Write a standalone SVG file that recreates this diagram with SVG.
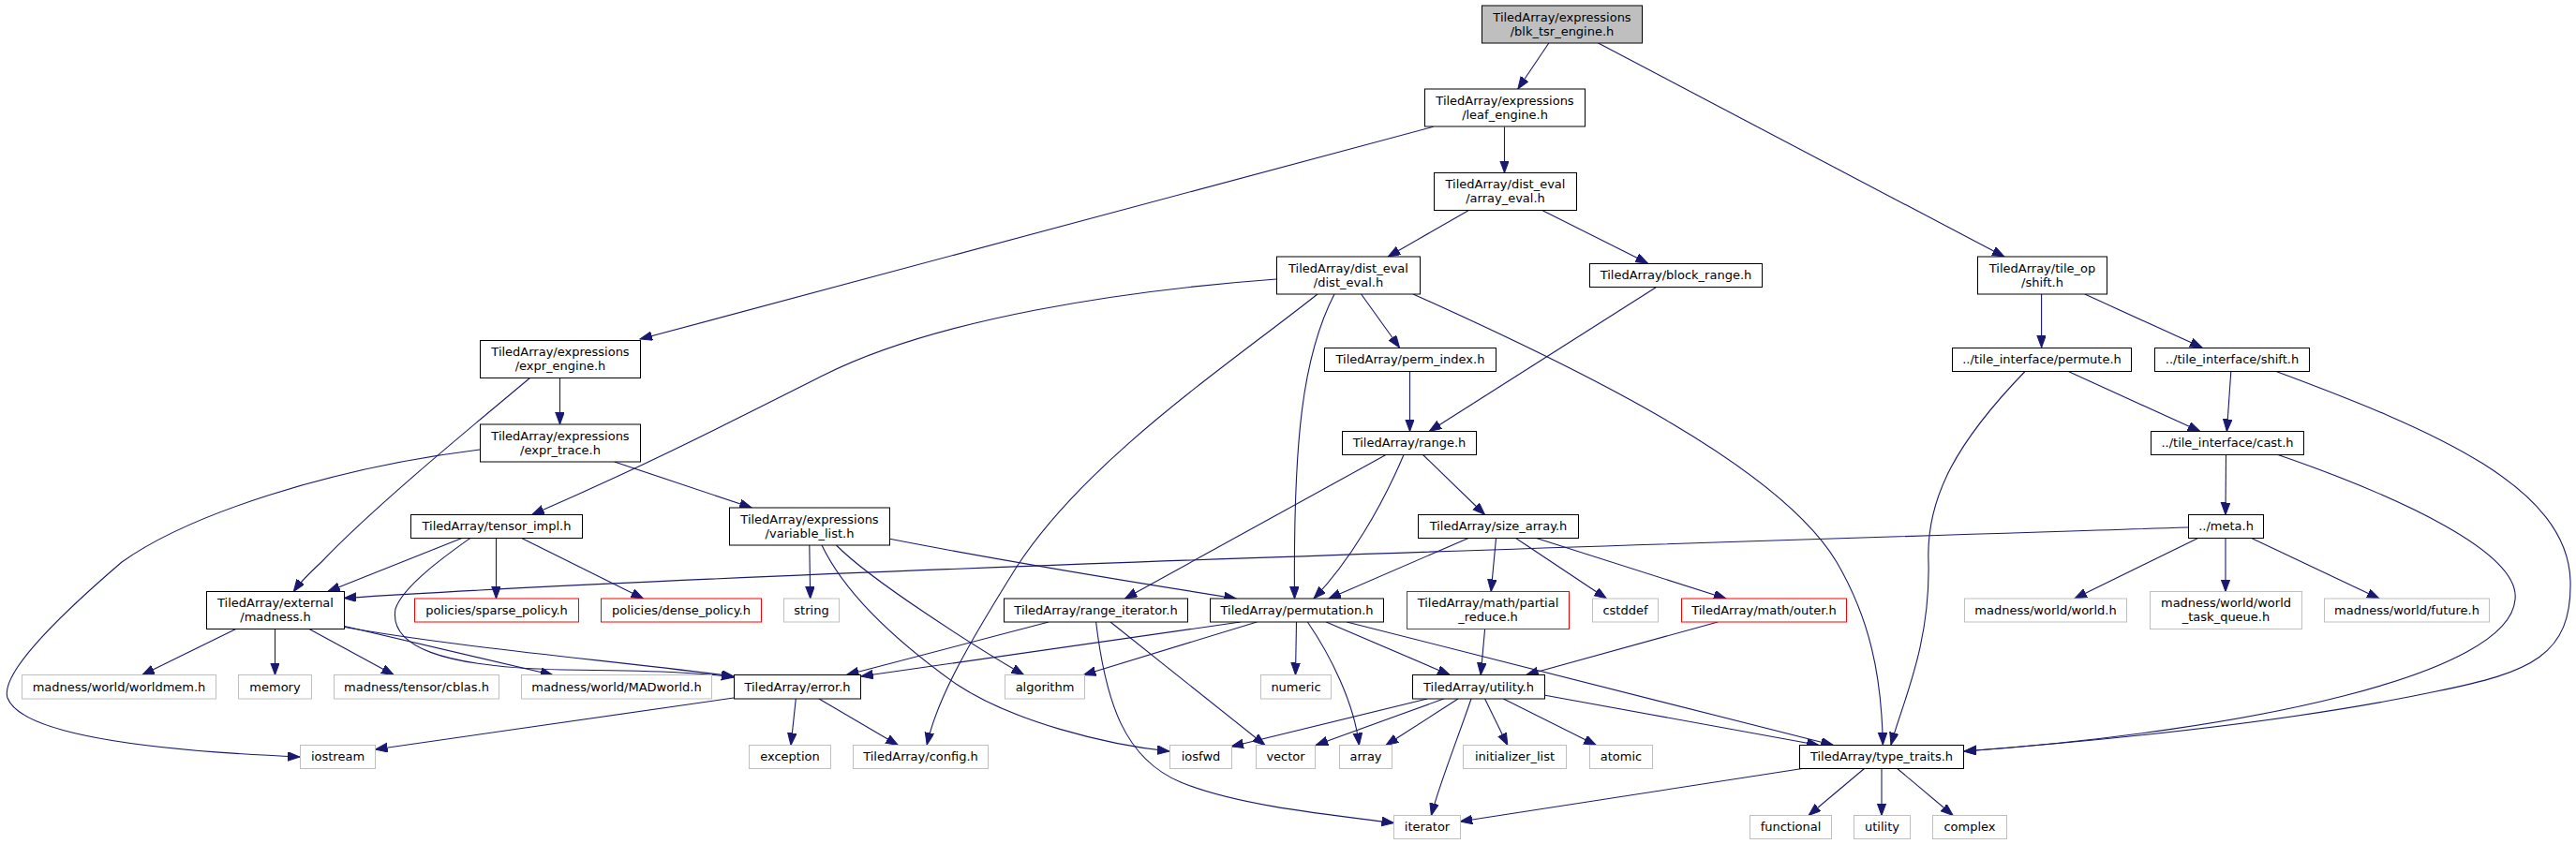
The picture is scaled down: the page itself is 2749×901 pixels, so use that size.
<svg xmlns="http://www.w3.org/2000/svg" width="2749" height="901" viewBox="0 0 2749 901">
<defs>
<marker id="ah" markerUnits="userSpaceOnUse" markerWidth="14" markerHeight="11" refX="13" refY="4.8" orient="auto">
<path d="M0,0 L13,4.8 L0,9.6 z" fill="#191970" stroke="#191970" stroke-width="1"/>
</marker>
<style>
rect{fill:#fff;stroke:#000;stroke-width:1}
.root rect{fill:#bfbfbf}
.ext rect{stroke:#bfbfbf}
.red rect{stroke:#ff0000}
text{font-family:"DejaVu Sans","Liberation Sans",sans-serif;font-size:13px;fill:#000;text-anchor:middle}
#edges path{fill:none;stroke:#191970;stroke-width:1.1;marker-end:url(#ah)}
</style>
</defs>
<rect x="0" y="0" width="2749" height="901" style="fill:#fff;stroke:none"/>
<g id="edges">
<path d="M1652.8,46 L1619.8,95"/>
<path d="M1705.6,46 L2139,274"/>
<path d="M1529.6,135.3 L683,362"/>
<path d="M1605.5,135.5 L1605.5,184.5"/>
<path d="M1567,224.7 L1481.2,274"/>
<path d="M1646.2,224.7 L1758.4,281"/>
<path d="M1362,298 C1200,310 1000,340 880,400 C790,445 700,492 567.7,549.5"/>
<path d="M1406,314 C1310,390 1160,490 1085,605 C1035,685 1000,745 989.2,795"/>
<path d="M1424,314 C1390,380 1380,470 1381.5,639"/>
<path d="M1508,314 C1700,400 1900,500 1960,600 C1995,660 2008,720 2009.3,795"/>
<path d="M1452.6,314 L1493.5,371"/>
<path d="M1767.2,306.7 L1525.2,460.5"/>
<path d="M2178.6,314 L2178.6,371"/>
<path d="M2224.8,314 L2350,371"/>
<path d="M2207.2,396.5 L2347.8,460.5"/>
<path d="M2161,396.5 C2090,470 2055,530 2058,600 C2060,690 2030,750 2018,795"/>
<path d="M2380.8,396.5 L2376.4,460.5"/>
<path d="M2429,396.5 C2600,460 2740,520 2743,620 C2745,700 2700,718 2600,738 C2450,770 2250,790 2096,802"/>
<path d="M2375.5,485.5 L2375,549.5"/>
<path d="M2431,485.5 C2560,530 2690,590 2684,640 C2678,720 2400,780 2096,802"/>
<path d="M2335,563 C1800,580 800,610 367,638.5"/>
<path d="M2345.6,574.5 L2213.8,639"/>
<path d="M2375,574.5 L2375,631.5"/>
<path d="M2402.7,574.5 L2539,639"/>
<path d="M597.5,403.5 L597.5,453"/>
<path d="M565.5,403.5 C510,450 400,540 343,600 C330,612 320,622 313.3,631.5"/>
<path d="M512,480 C350,500 200,550 130,600 C60,660 0,720 8,745 C25,790 200,803 320,808"/>
<path d="M655.7,493 L802.2,542"/>
<path d="M1504.5,396.5 L1504.5,460.5"/>
<path d="M1479,485.5 L1200.5,639"/>
<path d="M1498,485.5 C1475,540 1440,600 1402,639"/>
<path d="M1518.6,485.5 L1584.6,549.5"/>
<path d="M1567,574.5 L1418,639"/>
<path d="M1596.5,574.5 L1591.2,631.5"/>
<path d="M1617.6,574.5 L1714.4,639"/>
<path d="M1639.6,574.5 L1842,639"/>
<path d="M492.9,574.5 L349.8,631.5"/>
<path d="M529.5,574.5 L529.5,639"/>
<path d="M556.7,574.5 L686.5,639"/>
<path d="M501.7,574.5 C480,590 430,625 422,650 C415,690 470,712 600,715 C700,716 750,718 783,723"/>
<path d="M251.7,671.5 L151.8,720.5"/>
<path d="M293.5,671.5 L293.5,720.5"/>
<path d="M330,671.5 L420.2,720.5"/>
<path d="M366.6,668.3 L589.7,720.5"/>
<path d="M366.6,669.3 C480,690 650,705 783,722"/>
<path d="M863.8,582 L864.7,639"/>
<path d="M892.4,582 C930,620 1040,690 1092.6,720.5"/>
<path d="M877,582 C900,630 950,680 1020,730 C1080,770 1180,795 1248,802"/>
<path d="M948.3,575 C1050,595 1200,620 1319.3,639"/>
<path d="M1119,664 L903.4,720.5"/>
<path d="M1185,664 L1350,795.5"/>
<path d="M1169.6,664 C1180,750 1200,810 1260,835 C1320,860 1420,870 1487.5,878.5"/>
<path d="M1323.7,664 L918.8,722"/>
<path d="M1341.3,664 L1156.4,720.5"/>
<path d="M1383.5,664 L1382.5,720.5"/>
<path d="M1395.4,664 C1420,700 1445,750 1450.4,795.5"/>
<path d="M1415.2,664 L1547.2,720.5"/>
<path d="M1437.2,664 L1956.4,795.5"/>
<path d="M849.3,746 L844,795.5"/>
<path d="M874,746 L958.4,795.5"/>
<path d="M783,745 L400.5,800"/>
<path d="M1584.6,671.5 L1580.2,720.5"/>
<path d="M1833.2,664 L1628.6,720.5"/>
<path d="M1523,746 L1314,797"/>
<path d="M1540.6,746 L1404.2,795.5"/>
<path d="M1556,746 L1479,795.5"/>
<path d="M1570,746 C1555,790 1535,840 1527.4,870.5"/>
<path d="M1584.6,746 L1608.8,795.5"/>
<path d="M1604.4,746 L1703.4,795.5"/>
<path d="M1647.5,742 L1941,795.5"/>
<path d="M1923.4,820.5 L1558.2,877"/>
<path d="M1989.5,820.5 L1930,870.5"/>
<path d="M2008,820.5 L2008,870.5"/>
<path d="M2024.7,820.5 L2084.2,870.5"/>
</g>
<g id="n_blk_tsr_engine" class="root"><rect x="1581.5" y="6" width="171" height="40"/><text x="1667" y="22.5">TiledArray/expressions</text><text x="1667" y="37.5">/blk_tsr_engine.h</text></g>
<g id="n_leaf_engine"><rect x="1520.5" y="95" width="171" height="40"/><text x="1606" y="111.5">TiledArray/expressions</text><text x="1606" y="126.5">/leaf_engine.h</text></g>
<g id="n_array_eval"><rect x="1530.5" y="184.5" width="152" height="40"/><text x="1606.5" y="201">TiledArray/dist_eval</text><text x="1606.5" y="216">/array_eval.h</text></g>
<g id="n_dist_eval"><rect x="1362.5" y="274" width="153" height="40"/><text x="1439" y="290.5">TiledArray/dist_eval</text><text x="1439" y="305.5">/dist_eval.h</text></g>
<g id="n_block_range"><rect x="1696.5" y="281.5" width="184" height="25"/><text x="1788.5" y="298">TiledArray/block_range.h</text></g>
<g id="n_tile_op_shift"><rect x="2110.5" y="274" width="138" height="40"/><text x="2179.5" y="290.5">TiledArray/tile_op</text><text x="2179.5" y="305.5">/shift.h</text></g>
<g id="n_expr_engine"><rect x="512.5" y="363.5" width="171" height="40"/><text x="598" y="380">TiledArray/expressions</text><text x="598" y="395">/expr_engine.h</text></g>
<g id="n_perm_index"><rect x="1413.5" y="371.5" width="183" height="25"/><text x="1505" y="388">TiledArray/perm_index.h</text></g>
<g id="n_ti_permute"><rect x="2083.5" y="371.5" width="191" height="25"/><text x="2179" y="388">../tile_interface/permute.h</text></g>
<g id="n_ti_shift"><rect x="2299.5" y="371.5" width="165" height="25"/><text x="2382" y="388">../tile_interface/shift.h</text></g>
<g id="n_expr_trace"><rect x="512.5" y="453" width="171" height="40"/><text x="598" y="469.5">TiledArray/expressions</text><text x="598" y="484.5">/expr_trace.h</text></g>
<g id="n_range"><rect x="1432.5" y="460.5" width="143" height="25"/><text x="1504" y="477">TiledArray/range.h</text></g>
<g id="n_cast"><rect x="2295.5" y="460.5" width="163" height="25"/><text x="2377" y="477">../tile_interface/cast.h</text></g>
<g id="n_tensor_impl"><rect x="438.5" y="549.5" width="183" height="25"/><text x="530" y="566">TiledArray/tensor_impl.h</text></g>
<g id="n_variable_list"><rect x="778.5" y="542" width="171" height="40"/><text x="864" y="558.5">TiledArray/expressions</text><text x="864" y="573.5">/variable_list.h</text></g>
<g id="n_size_array"><rect x="1513.5" y="549.5" width="171" height="25"/><text x="1599" y="566">TiledArray/size_array.h</text></g>
<g id="n_meta"><rect x="2335.5" y="549.5" width="80" height="25"/><text x="2375.5" y="566">../meta.h</text></g>
<g id="n_madness"><rect x="220.5" y="631.5" width="147" height="40"/><text x="294" y="648">TiledArray/external</text><text x="294" y="663">/madness.h</text></g>
<g id="n_sparse_policy" class="red"><rect x="442.5" y="639" width="175" height="25"/><text x="530" y="655.5">policies/sparse_policy.h</text></g>
<g id="n_dense_policy" class="red"><rect x="641.5" y="639" width="171" height="25"/><text x="727" y="655.5">policies/dense_policy.h</text></g>
<g id="n_string" class="ext"><rect x="836.5" y="639" width="59" height="25"/><text x="866" y="655.5">string</text></g>
<g id="n_range_iterator"><rect x="1071.5" y="639" width="196" height="25"/><text x="1169.5" y="655.5">TiledArray/range_iterator.h</text></g>
<g id="n_permutation"><rect x="1291.5" y="639" width="185" height="25"/><text x="1384" y="655.5">TiledArray/permutation.h</text></g>
<g id="n_partial_reduce" class="red"><rect x="1501.5" y="631.5" width="173" height="40"/><text x="1588" y="648">TiledArray/math/partial</text><text x="1588" y="663">_reduce.h</text></g>
<g id="n_cstddef" class="ext"><rect x="1699.5" y="639" width="70" height="25"/><text x="1734.5" y="655.5">cstddef</text></g>
<g id="n_outer" class="red"><rect x="1794.5" y="639" width="176" height="25"/><text x="1882.5" y="655.5">TiledArray/math/outer.h</text></g>
<g id="n_world" class="ext"><rect x="2096.5" y="639" width="173" height="25"/><text x="2183" y="655.5">madness/world/world.h</text></g>
<g id="n_world_task_queue" class="ext"><rect x="2294.5" y="631.5" width="162" height="40"/><text x="2375.5" y="648">madness/world/world</text><text x="2375.5" y="663">_task_queue.h</text></g>
<g id="n_future" class="ext"><rect x="2480.5" y="639" width="176" height="25"/><text x="2568.5" y="655.5">madness/world/future.h</text></g>
<g id="n_worldmem" class="ext"><rect x="23.5" y="720.5" width="207" height="25.5"/><text x="127" y="737.5">madness/world/worldmem.h</text></g>
<g id="n_memory" class="ext"><rect x="254.5" y="720.5" width="78" height="25.5"/><text x="293.5" y="737.5">memory</text></g>
<g id="n_cblas" class="ext"><rect x="356.5" y="720.5" width="176" height="25.5"/><text x="444.5" y="737.5">madness/tensor/cblas.h</text></g>
<g id="n_madworld" class="ext"><rect x="556.5" y="720.5" width="203" height="25.5"/><text x="658" y="737.5">madness/world/MADworld.h</text></g>
<g id="n_error"><rect x="783.5" y="720.5" width="135" height="25.5"/><text x="851" y="737.5">TiledArray/error.h</text></g>
<g id="n_algorithm" class="ext"><rect x="1072.5" y="720.5" width="85" height="25.5"/><text x="1115" y="737.5">algorithm</text></g>
<g id="n_numeric" class="ext"><rect x="1345.5" y="720.5" width="75" height="25.5"/><text x="1383" y="737.5">numeric</text></g>
<g id="n_utility_h"><rect x="1507.5" y="720.5" width="141" height="25.5"/><text x="1578" y="737.5">TiledArray/utility.h</text></g>
<g id="n_iostream" class="ext"><rect x="320.5" y="795.5" width="80" height="25"/><text x="360.5" y="812">iostream</text></g>
<g id="n_exception" class="ext"><rect x="799.5" y="795.5" width="87" height="25"/><text x="843" y="812">exception</text></g>
<g id="n_config" class="ext"><rect x="910.5" y="795.5" width="144" height="25"/><text x="982.5" y="812">TiledArray/config.h</text></g>
<g id="n_iosfwd" class="ext"><rect x="1248.5" y="795.5" width="66" height="25"/><text x="1281.5" y="812">iosfwd</text></g>
<g id="n_vector" class="ext"><rect x="1340.5" y="795.5" width="63" height="25"/><text x="1372" y="812">vector</text></g>
<g id="n_array" class="ext"><rect x="1429.5" y="795.5" width="56" height="25"/><text x="1457.5" y="812">array</text></g>
<g id="n_initializer_list" class="ext"><rect x="1561.5" y="795.5" width="110" height="25"/><text x="1616.5" y="812">initializer_list</text></g>
<g id="n_atomic" class="ext"><rect x="1696.5" y="795.5" width="67" height="25"/><text x="1730" y="812">atomic</text></g>
<g id="n_type_traits"><rect x="1920.5" y="795.5" width="175" height="25"/><text x="2008" y="812">TiledArray/type_traits.h</text></g>
<g id="n_iterator" class="ext"><rect x="1487.5" y="870.5" width="71" height="25"/><text x="1523" y="887">iterator</text></g>
<g id="n_functional" class="ext"><rect x="1867.5" y="870.5" width="87" height="25"/><text x="1911" y="887">functional</text></g>
<g id="n_utility" class="ext"><rect x="1978.5" y="870.5" width="60" height="25"/><text x="2008.5" y="887">utility</text></g>
<g id="n_complex" class="ext"><rect x="2062.5" y="870.5" width="79" height="25"/><text x="2102" y="887">complex</text></g>
</svg>
